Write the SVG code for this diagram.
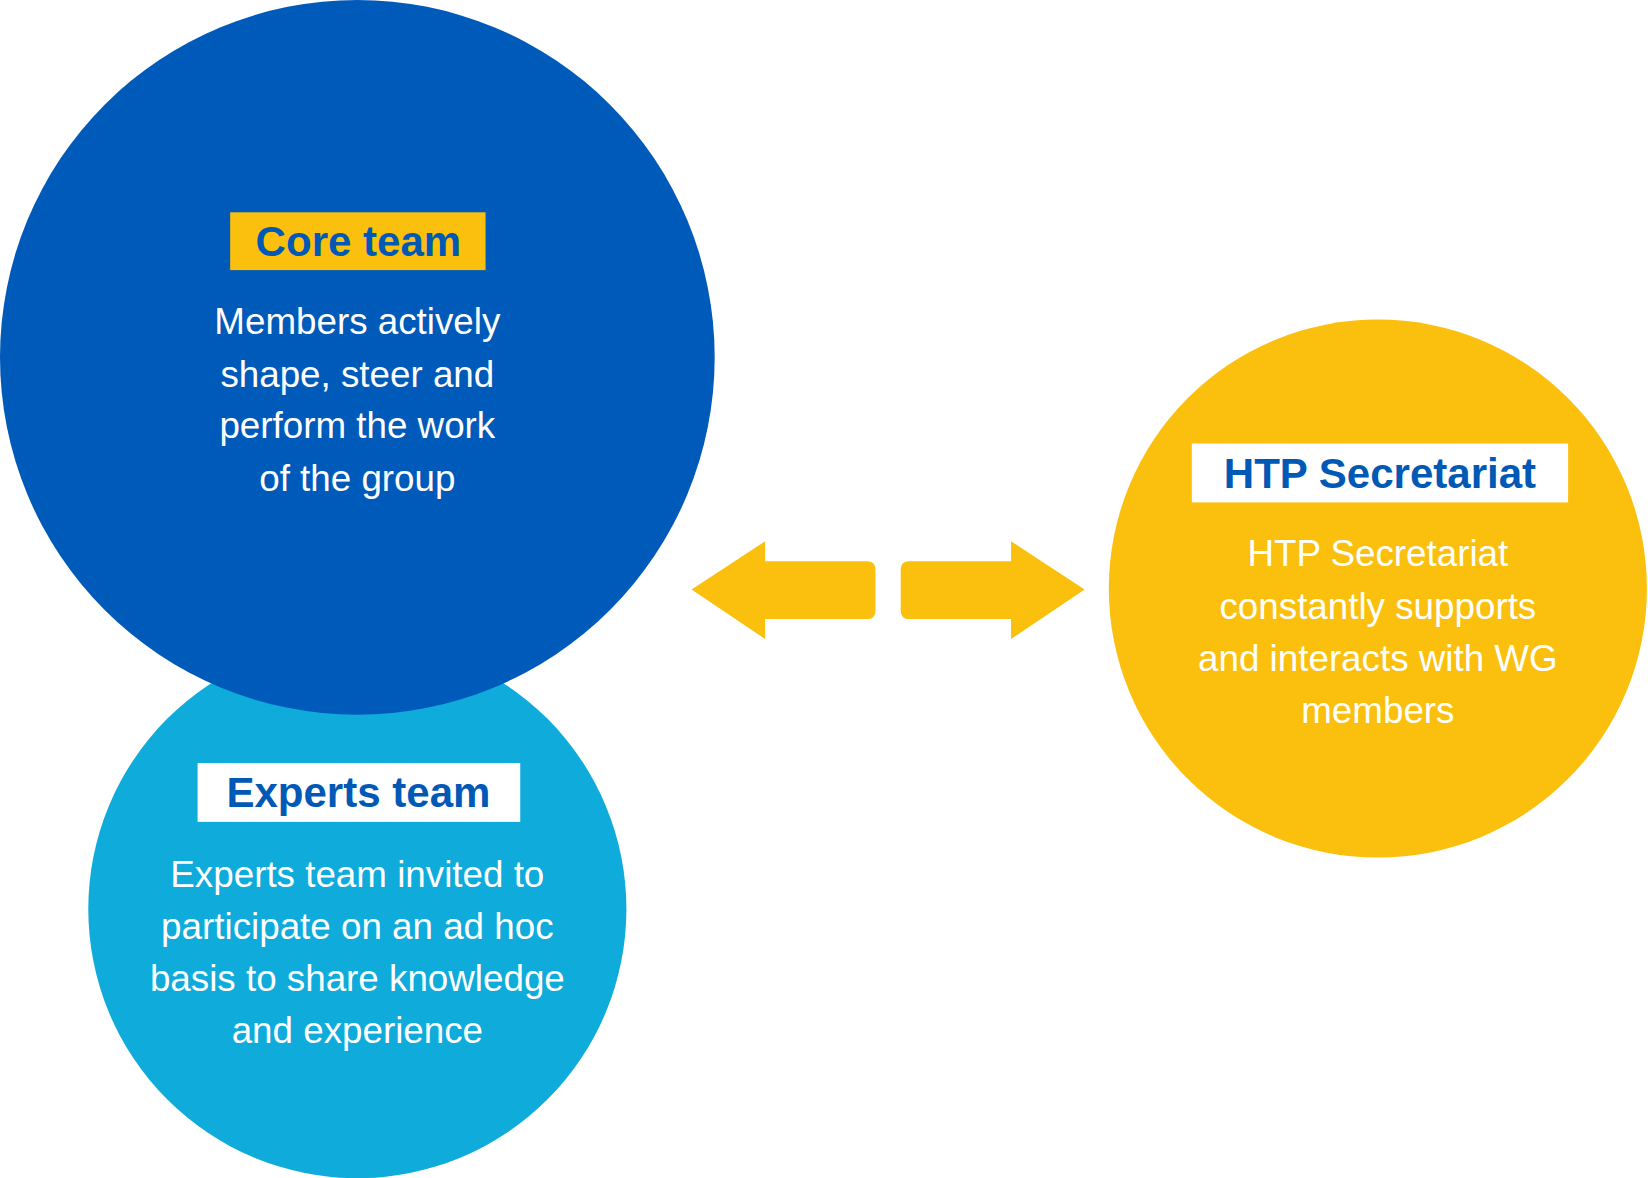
<svg xmlns="http://www.w3.org/2000/svg" width="1648" height="1178" viewBox="0 0 1648 1178">
<style>
.t{font-family:"Liberation Sans",Arial,sans-serif;font-size:35px;fill:#fff;text-anchor:middle}
.h{font-family:"Liberation Sans",Arial,sans-serif;font-size:40px;font-weight:bold;fill:#0059b5;text-anchor:middle}
.y{fill:#fbc00d}
</style>
<rect width="1648" height="1178" fill="#fff"/>
<g transform="scale(1.051)">
<g id="experts">
<circle cx="340" cy="865" r="256" fill="#0eabdb"/>
</g>
<g id="core">
<circle cx="340" cy="340" r="340" fill="#005ab9"/>
<rect x="219" y="202" width="243" height="55" class="y"/>
<text x="341" y="244" class="h">Core team</text>
<text class="t" x="340" y="318">Members actively</text>
<text class="t" x="340" y="368">shape, steer and</text>
<text class="t" x="340" y="417">perform the work</text>
<text class="t" x="340" y="467">of the group</text>
</g>
<g id="experts-text">
<rect x="188" y="726" width="307" height="56" fill="#fff"/>
<text x="341" y="768" class="h">Experts team</text>
<text class="t" x="340" y="844">Experts team invited to</text>
<text class="t" x="340" y="893">participate on an ad hoc</text>
<text class="t" x="340" y="943">basis to share knowledge</text>
<text class="t" x="340" y="992">and experience</text>
</g>
<g id="secretariat">
<circle cx="1311" cy="560" r="256" class="y"/>
<rect x="1134" y="422" width="358" height="56" fill="#fff"/>
<text x="1313" y="464" class="h">HTP Secretariat</text>
<text class="t" x="1311" y="539">HTP Secretariat</text>
<text class="t" x="1311" y="589">constantly supports</text>
<text class="t" x="1311" y="638">and interacts with WG</text>
<text class="t" x="1311" y="688">members</text>
</g>
<g id="connectors" class="y">
<path d="M658,561 L728,515 L728,534 L825,534 Q833,534 833,542 L833,581 Q833,589 825,589 L728,589 L728,608 Z"/>
<path d="M1032,561 L962,515 L962,534 L865,534 Q857,534 857,542 L857,581 Q857,589 865,589 L962,589 L962,608 Z"/>
</g>
</g>
</svg>
